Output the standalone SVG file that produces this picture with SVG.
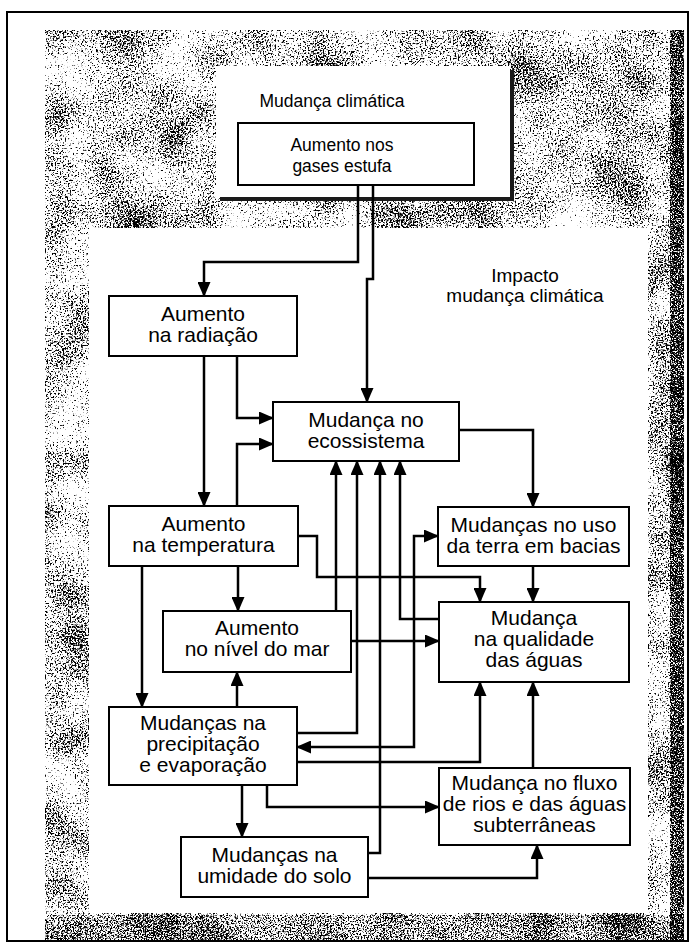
<svg xmlns="http://www.w3.org/2000/svg" width="696" height="949" viewBox="0 0 696 949">
  <style>
    .box { fill: #fff; stroke: #000; stroke-width: 2; }
    .lbl { font-family: "Liberation Sans", Arial, sans-serif; font-size: 21px; fill: #000; text-anchor: middle; }
    .ttl { font-family: "Liberation Sans", Arial, sans-serif; font-size: 19px; fill: #000; text-anchor: middle; }
    .top { font-family: "Liberation Sans", Arial, sans-serif; font-size: 17.5px; fill: #000; text-anchor: middle; }
    .con { fill: none; stroke: #000; stroke-width: 2.5; stroke-linejoin: miter; }
    .arr { marker-end: url(#ah); }
    .both { marker-start: url(#ah); marker-end: url(#ah); }
  </style>
  <defs>
    <marker id="ah" markerUnits="userSpaceOnUse" markerWidth="15" markerHeight="13" viewBox="0 0 15 13" refX="14" refY="6.5" orient="auto-start-reverse">
      <path d="M0,0 L15,6.5 L0,13 z" fill="#000"/>
    </marker>
    <filter id="grain" filterUnits="userSpaceOnUse" x="0" y="0" width="696" height="949" color-interpolation-filters="sRGB">
      <feTurbulence type="fractalNoise" baseFrequency="0.6" numOctaves="2" seed="4" result="f"/>
      <feColorMatrix in="f" type="matrix" values="1 0 0 0 0  1 0 0 0 0  1 0 0 0 0  0 0 0 0 1" result="f1"/>
      <feTurbulence type="fractalNoise" baseFrequency="0.02" numOctaves="2" seed="11" result="c"/>
      <feColorMatrix in="c" type="matrix" values="1 0 0 0 0  1 0 0 0 0  1 0 0 0 0  0 0 0 0 1" result="c1"/>
      <feComposite in="f1" in2="c1" operator="arithmetic" k1="0" k2="1" k3="0.45" k4="-0.225" result="m"/>
      <feColorMatrix in="m" type="matrix" values="0 0 0 0 0  0 0 0 0 0  0 0 0 0 0  -8 0 0 0 3.65" result="d"/>
      <feComposite in="d" in2="SourceGraphic" operator="in"/>
    </filter>
    <filter id="grainDense" filterUnits="userSpaceOnUse" x="0" y="0" width="696" height="949" color-interpolation-filters="sRGB">
      <feTurbulence type="fractalNoise" baseFrequency="0.7" numOctaves="2" seed="9" result="n"/>
      <feColorMatrix in="n" type="matrix" values="0 0 0 0 0  0 0 0 0 0  0 0 0 0 0  -9 0 0 0 4.3" result="d"/>
      <feComposite in="d" in2="SourceGraphic" operator="in"/>
    </filter>
    <filter id="grainBand" filterUnits="userSpaceOnUse" x="0" y="0" width="696" height="949" color-interpolation-filters="sRGB">
      <feTurbulence type="fractalNoise" baseFrequency="0.7" numOctaves="2" seed="21" result="n"/>
      <feColorMatrix in="n" type="matrix" values="0 0 0 0 0  0 0 0 0 0  0 0 0 0 0  -9 0 0 0 5.4" result="d"/>
      <feComposite in="d" in2="SourceGraphic" operator="in"/>
    </filter>
  </defs>

  <g id="background">
    <rect x="0" y="0" width="696" height="949" fill="#fff"/>
    <rect x="7" y="12" width="681" height="929" fill="none" stroke="#000" stroke-width="2"/>
    <rect x="45" y="30" width="639" height="910" fill="#000" filter="url(#grain)"/>
    <rect x="670" y="30" width="14" height="910" fill="#000" filter="url(#grainBand)"/>
    <rect x="45" y="915" width="639" height="25" fill="#000" filter="url(#grainDense)"/>
    <rect x="220" y="70" width="294" height="131" fill="#1a1a1a"/>
    <rect x="216" y="66" width="294" height="131" fill="#fff"/>
    <rect x="89" y="228" width="559" height="685" fill="#fff"/>
  </g>

  <g id="climate-change-title">
    <text class="top" x="332" y="107">Mudança climática</text>
  </g>

  <g id="impact-title">
    <text class="ttl" x="525" y="282">Impacto</text>
    <text class="ttl" x="525" y="302">mudança climática</text>
  </g>

  <g id="greenhouse-gases">
    <rect class="box" x="238" y="123" width="236" height="62"/>
    <text class="top" x="342" y="151">Aumento nos</text>
    <text class="top" x="342" y="172">gases estufa</text>
  </g>

  <g id="radiation">
    <rect class="box" x="109" y="296" width="188" height="60"/>
    <text class="lbl" x="203" y="321">Aumento</text>
    <text class="lbl" x="203" y="342">na radiação</text>
  </g>

  <g id="ecosystem">
    <rect class="box" x="273" y="402" width="186" height="59"/>
    <text class="lbl" x="366" y="427">Mudança no</text>
    <text class="lbl" x="366" y="448">ecossistema</text>
  </g>

  <g id="temperature">
    <rect class="box" x="109" y="506" width="189" height="60"/>
    <text class="lbl" x="203.5" y="531">Aumento</text>
    <text class="lbl" x="203.5" y="552">na temperatura</text>
  </g>

  <g id="land-use">
    <rect class="box" x="438" y="507" width="191" height="59"/>
    <text class="lbl" x="533.5" y="532">Mudanças no uso</text>
    <text class="lbl" x="533.5" y="553">da terra em bacias</text>
  </g>

  <g id="sea-level">
    <rect class="box" x="163" y="611" width="188" height="61"/>
    <text class="lbl" x="257" y="635">Aumento</text>
    <text class="lbl" x="257" y="656">no nível do mar</text>
  </g>

  <g id="water-quality">
    <rect class="box" x="439" y="602" width="190" height="80"/>
    <text class="lbl" x="534" y="625">Mudança</text>
    <text class="lbl" x="534" y="646">na qualidade</text>
    <text class="lbl" x="534" y="667">das águas</text>
  </g>

  <g id="precipitation">
    <rect class="box" x="109" y="707" width="188" height="78"/>
    <text class="lbl" x="203" y="730">Mudanças na</text>
    <text class="lbl" x="203" y="751">precipitação</text>
    <text class="lbl" x="203" y="772">e evaporação</text>
  </g>

  <g id="river-flow">
    <rect class="box" x="439" y="768" width="191" height="77"/>
    <text class="lbl" x="534.5" y="790">Mudança no fluxo</text>
    <text class="lbl" x="534.5" y="811">de rios e das águas</text>
    <text class="lbl" x="534.5" y="832">subterrâneas</text>
  </g>

  <g id="soil-moisture">
    <rect class="box" x="181" y="837" width="187" height="60"/>
    <text class="lbl" x="274.5" y="862">Mudanças na</text>
    <text class="lbl" x="274.5" y="883">umidade do solo</text>
  </g>

  <g id="connectors">
    <path class="con arr" d="M358,185 V262 H204 V296"/>
    <path class="con arr" d="M373,185 V279 H367 V402"/>
    <path class="con arr" d="M204,356 V506"/>
    <path class="con arr" d="M237,356 V418 H273"/>
    <path class="con arr" d="M237,506 V444 H273"/>
    <path class="con arr" d="M336,611 V461"/>
    <path class="con arr" d="M297,733 H357 V461"/>
    <path class="con arr" d="M368,853 H380 V461"/>
    <path class="con arr" d="M439,619 H400 V461"/>
    <path class="con arr" d="M459,430 H533 V507"/>
    <path class="con arr" d="M533,566 V602"/>
    <path class="con arr" d="M298,536 H317 V577 H480 V602"/>
    <path class="con both" d="M297,747 H414 V536 H438"/>
    <path class="con arr" d="M351,641 H439"/>
    <path class="con arr" d="M297,762 H480 V682"/>
    <path class="con arr" d="M533,768 V682"/>
    <path class="con arr" d="M267,785 V807 H439"/>
    <path class="con arr" d="M242,785 V837"/>
    <path class="con arr" d="M237,707 V672"/>
    <path class="con arr" d="M238,566 V611"/>
    <path class="con arr" d="M142,566 V707"/>
    <path class="con arr" d="M368,878 H537 V845"/>
  </g>
</svg>
